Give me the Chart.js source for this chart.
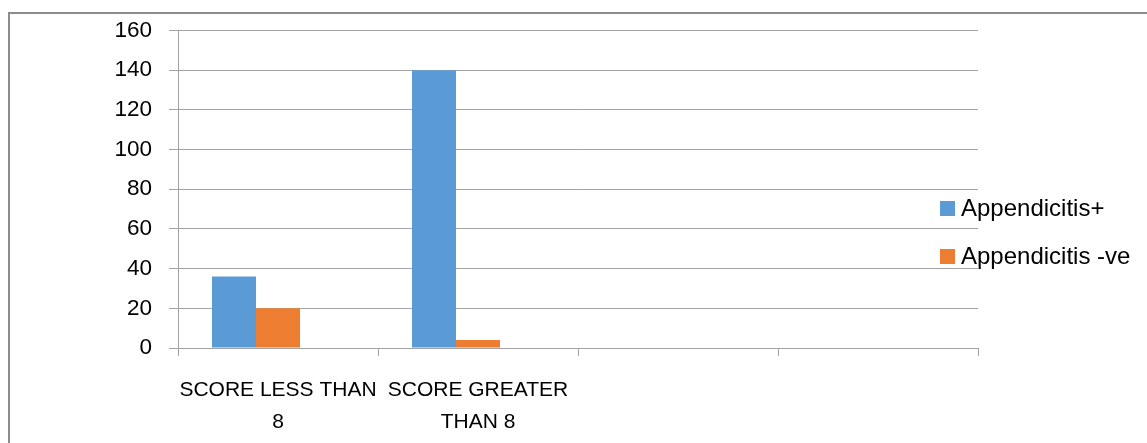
<!DOCTYPE html>
<html>
<head>
<meta charset="utf-8">
<script src="https://cdn.jsdelivr.net/npm/chart.js@4"></script>
<style>
  html, body { margin: 0; padding: 0; background: #fff; }
  #wrap { position: relative; width: 1147px; height: 443px; overflow: hidden; }
  #frame { position: absolute; left: 8px; top: 12px; right: -10px; bottom: -10px;
           border-left: 2px solid #8c8c8c; border-top: 2px solid #8c8c8c; }
  canvas { position: absolute; left: 0; top: 0; }
  #legend { position: absolute; left: 940px; top: 192px; font-family: 'Liberation Sans', Arial, sans-serif;
            font-size: 24px; color: #000; }
  .item { position: relative; height: 48px; line-height: 28px; white-space: nowrap; }
  .sw { position: absolute; left: 0; top: 9px; width: 15px; height: 15px; }
  .lbl { position: absolute; left: 21px; top: 2px; }
</style>
</head>
<body>
<div id="wrap">
  <div id="frame"></div>
  <canvas id="c" width="1147" height="443"></canvas>
  <div id="legend"></div>
</div>
<script>
const categories = [['SCORE LESS THAN', '8'], ['SCORE GREATER', 'THAN 8'], '', ''];
const seriesNames = ['Appendicitis+', 'Appendicitis -ve'];
const positiveValues = [36, 140, null, null];
const negativeValues = [20, 4, null, null];
const emptySeries = [null, null, null, null];
const seriesColors = ['#5B9BD5', '#ED7D31'];
const yTicks = [0, 20, 40, 60, 80, 100, 120, 140, 160];

const gridColor = '#a3a3a3';

const chart = new Chart(document.getElementById('c'), {
  type: 'bar',
  data: {
    labels: categories,
    datasets: [
      { label: seriesNames[0], data: positiveValues, backgroundColor: seriesColors[0] },
      { label: seriesNames[1], data: negativeValues, backgroundColor: seriesColors[1] },
      { label: '', data: emptySeries, backgroundColor: 'rgba(0,0,0,0)' }
    ]
  },
  options: {
    responsive: false,
    animation: false,
    devicePixelRatio: 1,
    layout: { padding: { left: 0, right: 169, top: 29, bottom: 0 } },
    datasets: { bar: { categoryPercentage: 0.66, barPercentage: 1.0 } },
    plugins: { legend: { display: false }, tooltip: { enabled: false } },
    scales: {
      x: {
        afterFit: s => { s.height = 95; },
        grid: { display: true, drawOnChartArea: false, drawTicks: true, tickLength: 8, color: gridColor, offset: true },
        border: { display: true, color: gridColor, width: 1 },
        ticks: {
          autoSkip: false, maxRotation: 0, minRotation: 0, color: '#000', padding: 18,
          font: { family: "'Liberation Sans', Arial, sans-serif", size: 21, lineHeight: 1.52 }
        }
      },
      y: {
        min: 0, max: 160,
        afterFit: s => { s.width = 178; },
        afterBuildTicks: s => { s.ticks = yTicks.map(v => ({ value: v })); },
        grid: { color: gridColor, tickLength: 9, drawTicks: true },
        border: { display: true, color: gridColor, width: 1 },
        ticks: {
          color: '#000', padding: 17,
          font: { family: "'Liberation Sans', Arial, sans-serif", size: 22.5 }
        }
      }
    }
  }
});

const legend = document.getElementById('legend');
seriesNames.forEach((name, i) => {
  const item = document.createElement('div');
  item.className = 'item';
  const sw = document.createElement('span');
  sw.className = 'sw';
  sw.style.background = seriesColors[i];
  const lbl = document.createElement('span');
  lbl.className = 'lbl';
  lbl.textContent = name;
  item.appendChild(sw);
  item.appendChild(lbl);
  legend.appendChild(item);
});
</script>
</body>
</html>
